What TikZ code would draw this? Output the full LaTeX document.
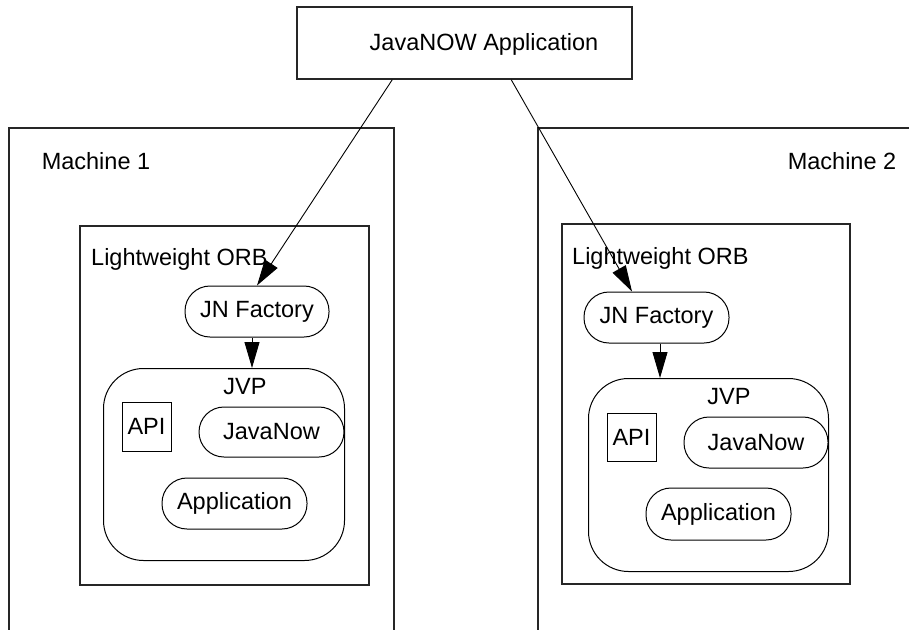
\documentclass[tikz,border=0pt]{standalone}
\usepackage{fontspec}
\setmainfont{Liberation Sans}
\usetikzlibrary{arrows.meta,calc}
\begin{document}
\begin{tikzpicture}[x=1pt,y=-1pt,
  every node/.style={font=\fontsize{23.5}{27}\selectfont, inner sep=0pt},
  box/.style={draw=black!85, line width=1.5pt},
  pill/.style={draw, line width=1pt, rounded corners=25pt, minimum width=145pt, minimum height=51pt},
  jvpbox/.style={draw, line width=1pt, rounded corners=40pt},
  apibox/.style={draw, line width=1pt, minimum width=49pt, minimum height=49pt},
  arr/.style={line width=0.9pt, -{Triangle[length=26pt,width=15pt]}}
]
\useasboundingbox (0,0) rectangle (909,629);
\clip (0,0) rectangle (909,629);
\fill[white] (0,0) rectangle (909,629);

% top application box
\node[box, minimum width=335pt, minimum height=72pt] (app) at (464.5,43) {};
\node (apptext) at (484,44) {JavaNOW Application};

% machines
\node[box, minimum width=385pt, minimum height=560pt, anchor=north west] (m1) at (8,127) {};
\node[box, minimum width=420pt, minimum height=560pt, anchor=north west] (m2) at (537,127) {};
\node (m1text) at (96,161) {Machine 1};
\node (m2text) at (842,161) {Machine 2};

% ORBs
\node[box, minimum width=289pt, minimum height=359pt, anchor=north west] (orb1) at (79,225) {};
\node[box, minimum width=288pt, minimum height=360pt, anchor=north west] (orb2) at (561,223) {};
\node[anchor=west] (orb1text) at (91,259) {Lightweight ORB};
\node[anchor=west] (orb2text) at (572,258) {Lightweight ORB};

% JN Factory
\node[pill, minimum width=144pt] (jnf1) at (257,311.5) {JN Factory};
\node[pill] (jnf2) at (656.5,317.5) {JN Factory};

% JVP
\node[jvpbox, minimum width=241pt, minimum height=192pt, anchor=north west] (jvp1) at (103,368) {};
\node[jvpbox, minimum width=240pt, minimum height=193pt, anchor=north west] (jvp2) at (588,378) {};
\node (jvp1text) at (245,387) {JVP};
\node (jvp2text) at (729,397) {JVP};

% API
\node[apibox] (api1) at (146.5,426.5) {API};
\node[apibox, minimum height=48pt] (api2) at (631.5,437) {API};

% JavaNow
\node[pill, minimum height=50pt] (jn1) at (271.5,432) {JavaNow};
\node[pill, minimum width=144pt] (jn2) at (756,442.5) {JavaNow};

% Application
\node[pill] (ap1) at (234.5,503.5) {Application};
\node[pill, minimum height=52pt] (ap2) at (718.5,514) {Application};

% arrows
\coordinate (s1) at ($(app.south west)+(96,0)$);
\coordinate (s2) at ($(app.south west)+(215,0)$);
\coordinate (e2) at ($(jnf2.north)+(-24.5,0)$);
\coordinate (v1) at ($(jnf1.south)+(-5,0)$);
\coordinate (v2) at ($(jnf2.south)+(3.5,0)$);
\draw[arr] (s1) -- (jnf1.north);
\draw[arr] (s2) -- (e2);
\draw[arr] (v1) -- (v1 |- jvp1.north);
\draw[arr] (v2) -- (v2 |- jvp2.north);
\end{tikzpicture}
\end{document}
